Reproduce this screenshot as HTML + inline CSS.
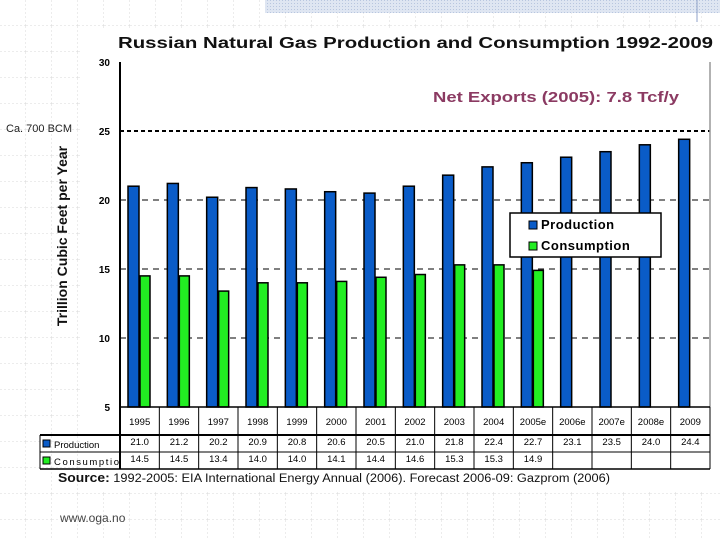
<!DOCTYPE html>
<html><head><meta charset="utf-8"><style>
body{margin:0;background:#fff;}
svg text{font-family:"Liberation Sans",sans-serif;}
</style></head><body>
<svg id="c" width="720" height="540" xmlns="http://www.w3.org/2000/svg">
<defs>
<pattern id="grid" width="26" height="26" patternUnits="userSpaceOnUse"><path d="M26 0V26M0 26H26" stroke="#d8d8d8" stroke-width="1" stroke-dasharray="2,2" fill="none"/></pattern>
<pattern id="hatch" width="3" height="3" patternUnits="userSpaceOnUse"><rect width="3" height="3" fill="#dfe6f2"/><rect width="1" height="1" fill="#b8c6df"/></pattern>
</defs>
<rect width="720" height="540" fill="url(#grid)"/>
<rect x="265" y="0" width="455" height="13" fill="url(#hatch)"/>
<line x1="697" y1="0" x2="697" y2="22" stroke="#8fa2c8"/>
<rect x="80" y="30" width="640" height="460" fill="#fff"/>
<text x="118" y="48" font-size="15.5" font-weight="bold" fill="#111" textLength="595" lengthAdjust="spacingAndGlyphs">Russian Natural Gas Production and Consumption 1992-2009</text>
<text x="433" y="102" font-size="14.5" font-weight="bold" fill="#8b3a62" textLength="246" lengthAdjust="spacingAndGlyphs">Net Exports (2005):  7.8 Tcf/y</text>
<text x="6" y="132" font-size="11" fill="#222">Ca. 700 BCM</text>
<text x="0" y="0" transform="translate(67,236) rotate(-90)" text-anchor="middle" font-size="14" font-weight="bold" fill="#111">Trillion Cubic Feet per Year</text>
<g id="plot"></g>
<g id="tbl"></g>
<text x="58" y="482" font-size="11.5" fill="#111" textLength="552" lengthAdjust="spacingAndGlyphs"><tspan font-weight="bold" font-size="12.5">Source:</tspan> 1992-2005: EIA International Energy Annual (2006).  Forecast 2006-09: Gazprom (2006)</text>
<text x="60" y="522" font-size="12" fill="#444">www.oga.no</text>
</svg>
<script>
const years=["1995","1996","1997","1998","1999","2000","2001","2002","2003","2004","2005e","2006e","2007e","2008e","2009"];
const production=[21.0,21.2,20.2,20.9,20.8,20.6,20.5,21.0,21.8,22.4,22.7,23.1,23.5,24.0,24.4];
const consumption=[14.5,14.5,13.4,14.0,14.0,14.1,14.4,14.6,15.3,15.3,14.9,null,null,null,null];
const yTicks=[5,10,15,20,25,30];
const NS="http://www.w3.org/2000/svg";
const x0=120,x1=710,yBase=407,yTop=62,vMin=5,vMax=30;
const colW=(x1-x0)/years.length;
const y=v=>yBase-(v-vMin)/(vMax-vMin)*(yBase-yTop);
const xc=i=>x0+i*colW;
function mk(t,a,p){const e=document.createElementNS(NS,t);for(const k in a)e.setAttribute(k,a[k]);(p||plot).appendChild(e);return e;}
const plot=document.getElementById('plot'),tbl=document.getElementById('tbl');
yTicks.forEach(v=>{
  if(v>vMin&&v<vMax){const l=mk('line',{x1:x0,x2:x1,y1:y(v),y2:y(v),stroke:'#000','stroke-dasharray':v==25?'4,3':'6,5','stroke-width':v==25?2:1});
  
  }
  const t=mk('text',{x:110,y:y(v)+4,'text-anchor':'end','font-size':10,'font-weight':'bold'});t.textContent=v;
  
  
});
years.forEach((yr,i)=>{
  const p=mk('rect',{x:xc(i)+8,y:y(production[i]),width:11,height:yBase-y(production[i]),fill:'#0a5cc8',stroke:'#000','stroke-width':1.5});
  
  
  if(consumption[i]!=null){const c=mk('rect',{x:xc(i)+20,y:y(consumption[i]),width:10,height:yBase-y(consumption[i]),fill:'#22ee22',stroke:'#000','stroke-width':1.5});
  
  }
});
const ax=mk('line',{x1:x0,x2:x0,y1:yTop,y2:yBase,stroke:'#000','stroke-width':2});


mk('line',{x1:x1,x2:x1,y1:yTop,y2:yBase,stroke:'#999','stroke-width':1.5});
const lg=mk('g',{});


mk('rect',{x:510,y:213,width:151,height:44,fill:'#fff',stroke:'#000','stroke-width':1.5},lg);
mk('rect',{x:529,y:221,width:8,height:8,fill:'#0a5cc8',stroke:'#000'},lg);
mk('rect',{x:529,y:242,width:8,height:8,fill:'#22ee22',stroke:'#000'},lg);
let t1=mk('text',{x:541,y:229,'font-size':13,'font-weight':'bold','letter-spacing':'0.5'},lg);t1.textContent='Production';
let t2=mk('text',{x:541,y:250,'font-size':13,'font-weight':'bold','letter-spacing':'0.5'},lg);t2.textContent='Consumption';
const r0=407,r1=435,r2=452,r3=469;
mk('line',{x1:x0,x2:x1,y1:r0,y2:r0,stroke:'#000','stroke-width':1.5},tbl);
mk('line',{x1:40,x2:x1,y1:r1,y2:r1,stroke:'#000','stroke-width':2},tbl);
mk('line',{x1:40,x2:x1,y1:r2,y2:r2,stroke:'#000'},tbl);
mk('line',{x1:40,x2:x1,y1:r3,y2:r3,stroke:'#000','stroke-width':1.5},tbl);
mk('line',{x1:40,x2:40,y1:r1,y2:r3,stroke:'#000'},tbl);
for(let i=0;i<=years.length;i++)mk('line',{x1:xc(i),x2:xc(i),y1:r0,y2:r3,stroke:'#000','stroke-width':i==0?2:1},tbl);
mk('rect',{x:43,y:440,width:7,height:7,fill:'#0a5cc8',stroke:'#000'},tbl);
mk('rect',{x:43,y:457,width:7,height:7,fill:'#22ee22',stroke:'#000'},tbl);
let l1=mk('text',{x:54,y:448,'font-size':9.5},tbl);l1.textContent='Production';
let l2=mk('text',{x:54,y:465,'font-size':9.5,textLength:65},tbl);l2.textContent='Consumptio';
years.forEach((yr,i)=>{
  const cx=xc(i)+colW/2;
  const h=mk('text',{x:cx,y:425,'text-anchor':'middle','font-size':9.5},tbl);h.textContent=yr;
  
  
  const a=mk('text',{x:cx,y:445,'text-anchor':'middle','font-size':9.5},tbl);a.textContent=production[i].toFixed(1);
  if(consumption[i]!=null){const b=mk('text',{x:cx,y:462,'text-anchor':'middle','font-size':9.5},tbl);b.textContent=consumption[i].toFixed(1);}
});
</script>
</body></html>
